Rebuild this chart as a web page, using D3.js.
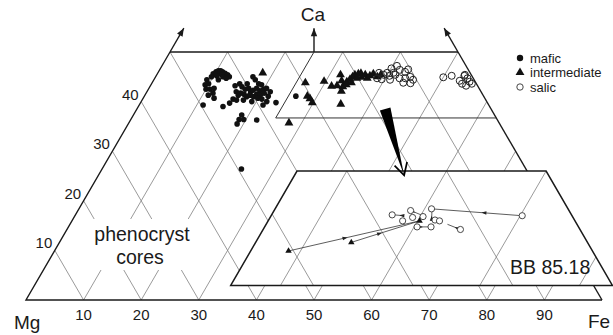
<!DOCTYPE html>
<html><head><meta charset="utf-8">
<script src="https://cdn.jsdelivr.net/npm/d3@7"></script>
<style>
body{margin:0;background:#fff}
svg{display:block;font-family:"Liberation Sans",Arial,Helvetica,sans-serif}
</style>
</head><body>
<svg id="chart" width="613" height="335"></svg>
<script>
// Pyroxene compositions as [Ca, Fe] in mol %; Mg = 100 - Ca - Fe
const maficPts = [
  [45.6,9.7],[46.0,10.0],[46.2,10.3],[46.2,10.7],[46.0,11.1],[45.7,11.7],[45.4,12.3],[45.0,12.8],
  [45.6,10.8],[45.4,11.3],[45.0,11.7],[45.2,10.5],[44.7,12.4],[45.0,9.7],[44.4,9.2],[43.4,9.4],
  [43.6,9.9],[42.5,10.0],[42.5,10.7],[42.7,11.3],[41.7,11.6],[41.3,11.0],[40.7,12.3],[39.3,11.1],
  [39.0,14.7],[45.0,16.9],[44.4,17.6],[43.6,15.3],[43.0,16.0],[42.5,16.8],[42.7,17.3],[42.0,18.0],
  [42.3,18.3],[42.7,18.7],[42.2,19.5],[42.5,20.0],[42.7,20.4],[42.0,21.4],[42.0,15.5],[41.3,16.2],
  [41.7,16.4],[41.5,17.1],[41.0,17.8],[41.3,18.2],[41.0,19.0],[41.5,19.3],[41.3,20.0],[41.7,20.5],
  [41.1,21.5],[40.5,15.7],[40.3,16.4],[40.3,17.6],[40.0,19.2],[40.5,20.7],[40.0,21.8],[39.8,23.5],
  [39.7,15.5],[39.3,21.5],[43.6,18.6],[43.4,19.2],[37.3,18.8],[36.4,18.8],[36.4,19.6],[35.5,18.9],
  [36.3,21.9],[26.4,24.2],[41.1,26.3],[43.6,16.6],[40.7,19.9],[43.2,14.7],[44.4,11.2]
];
const intermediatePts = [
  [45.8,18.2],[35.7,27.8],[43.8,26.6],[41.1,28.3],[40.6,29.0],[39.8,29.8],[44.1,29.7],[43.1,31.5],
  [45.4,31.9],[44.2,32.7],[43.0,33.5],[42.1,33.7],[39.5,34.9],[43.2,32.4],[44.0,33.7],[44.5,34.0],
  [45.0,34.2],[45.4,34.4],[45.6,34.9],[45.7,35.3],[44.9,35.8],[45.4,36.2],[44.7,36.9],[45.2,37.1],
  [45.6,37.5],[44.7,35.1],[43.8,34.6],[43.4,33.9],[45.0,38.5],[45.4,38.9]
];
const salicPts = [
  [45.8,38.4],[45.4,39.4],[45.8,39.8],[45.2,40.5],[45.8,40.9],[44.7,38.6],[44.5,39.5],[44.4,41.0],
  [46.7,40.1],[47.2,40.8],[46.4,41.7],[46.0,42.8],[46.5,43.1],[45.4,41.4],[44.7,42.5],[44.7,43.5],
  [45.0,44.2],[44.4,45.0],[43.8,43.6],[43.7,44.9],
  [44.9,50.0],[45.2,51.3],[45.4,53.5],[44.7,54.3],[44.0,55.0],[43.6,53.9],[43.2,54.8],[43.6,55.6],
  [45.2,53.5],[44.2,53.2]
];

// Sample BB 85.18: core and rim analyses, zoning paths core -> rim
const bbSalic = [
  [44.9,37.1],[45.4,38.7],[44.6,39.3],[44.2,38.5],[44.7,40.3],[45.6,40.7],[44.3,41.7],[44.2,42.2],
  [43.5,40.3],[43.5,41.7],[43.2,44.8],[44.8,50.2]
];
const bbIntermediate = [[40.7,28.8],[41.7,34.6],[44.2,40.2]];
const bbPaths = [
  [[40.7,28.8],[44.2,40.2]],
  [[41.7,34.6],[44.2,40.2]],
  [[44.8,50.2],[45.6,40.7]],
  [[44.8,38.3],[44.9,37.3]],
  [[45.4,38.7],[44.9,40.0]],
  [[43.5,40.3],[43.5,41.6]],
  [[43.2,44.8],[43.8,43.2]],
  [[44.2,41.4],[45.5,40.8]]
];

const gridSteps = [10,20,30,40,50,60,70,80,90];
const caTicks = [10,20,30,40];
const legendItems = ["mafic","intermediate","salic"];

// Enlarged field: Fe >= 25, Ca 36.7 - 50
const fieldFe = 25, fieldCaLow = 36.7, fieldCaTop = 50;

const svg = d3.select("#chart");

// horizontal position in units of the Mg-Fe join
const hu = d => d[1] + d[0] / 2;

// main quadrilateral scales
const xMain = d3.scaleLinear().domain([0, 100]).range([26, 602]);
const yMain = d3.scaleLinear().domain([0, 50]).range([300, 52]);
const mx = d => xMain(hu(d)), my = d => yMain(d[0]);

// enlarged inset scales
const xIn = d3.scaleLinear().domain([50, 60]).range([297, 396.65]);
const yIn = d3.scaleLinear().domain([50, 40]).range([171, 257]);
const ix = d => xIn(hu(d)), iy = d => yIn(d[0]);

const GRID = "#808080";
const INK = "#1a1a1a";

const defs = svg.append("defs");
const quad = [[0,0],[0,100],[50,50],[50,0]];
defs.append("clipPath").attr("id","clipMain")
  .append("polygon").attr("points", quad.map(d => [mx(d), my(d)].join(",")).join(" "));

const insetPoly = [[fieldCaLow,fieldFe],[fieldCaTop,fieldFe],[fieldCaTop,100-fieldCaTop],[fieldCaLow,100-fieldCaLow]];
defs.append("clipPath").attr("id","clipInset")
  .append("polygon").attr("points", insetPoly.map(d => [ix(d), iy(d)].join(",")).join(" "));

// grid line list in composition space: constant Fe and constant Mg
const gridLines = [];
gridSteps.forEach(k => {
  gridLines.push([[0,k],[100-k,k]]);       // Fe = k
  gridLines.push([[0,100-k],[100-k,0]]);   // Mg = k
});

// ---- main grid
svg.append("g").attr("clip-path","url(#clipMain)")
  .selectAll("line").data(gridLines).join("line")
  .attr("x1", d => mx(d[0])).attr("y1", d => my(d[0]))
  .attr("x2", d => mx(d[1])).attr("y2", d => my(d[1]))
  .attr("stroke", GRID).attr("stroke-width", 0.8);

// ---- outline with axis arrows
const outline = svg.append("g").attr("stroke", INK).attr("fill","none").attr("stroke-width",1.4);
const line = d3.line().x(mx).y(my);
outline.append("path").attr("d", line([[0,100],[0,0],[50,0]]));
outline.append("path").attr("d", line([[0,100],[50,50]]));
outline.append("path").attr("d", line([[50,0],[50,50]]));

function arrowHead(g, from, to, len, half, fill) {
  const dx = to[0]-from[0], dy = to[1]-from[1], L = Math.hypot(dx,dy);
  const ux = dx/L, uy = dy/L, nx = -uy, ny = ux;
  const bx = to[0]-ux*len, by = to[1]-uy*len;
  g.append("path")
    .attr("d", `M${to[0]},${to[1]}L${bx+nx*half},${by+ny*half}L${bx-nx*half},${by-ny*half}Z`)
    .attr("fill", fill).attr("stroke","none");
}
const axisArrows = [
  [[50,0],[54.8,0]],
  [[50,25],[54.8,22.6]],
  [[50,50],[54.8,45.2]]
];
const arrowG = svg.append("g");
axisArrows.forEach(a => {
  const p0 = [mx(a[0]), my(a[0])];
  const p1 = [mx(a[1]), yMain(a[1][0])];
  arrowG.append("line").attr("x1",p0[0]).attr("y1",p0[1]).attr("x2",p1[0]).attr("y2",p1[1])
    .attr("stroke",INK).attr("stroke-width",1.4);
  arrowHead(arrowG, p0, p1, 8, 3.2, INK);
});

// ---- outline of the enlarged field
svg.append("path")
  .attr("d", line([[fieldCaTop,fieldFe],[fieldCaLow,fieldFe],[fieldCaLow,100-fieldCaLow]]))
  .attr("fill","none").attr("stroke","#333").attr("stroke-width",1);

// ---- labels
svg.append("text").attr("x", xMain(50)-1).attr("y", 21).attr("text-anchor","middle")
  .attr("font-size", 19).attr("fill", INK).text("Ca");
svg.append("text").attr("x", 14).attr("y", 329).attr("font-size", 19).attr("fill", INK).text("Mg");
svg.append("text").attr("x", 588).attr("y", 328).attr("font-size", 19).attr("fill", INK).text("Fe");

svg.append("g").selectAll("text").data(gridSteps).join("text")
  .attr("x", d => xMain(d)).attr("y", 320).attr("text-anchor","middle")
  .attr("font-size", 15).attr("fill", INK).text(d => d);

svg.append("g").selectAll("text").data(caTicks).join("text")
  .attr("x", d => mx([d,0]) - 2.5).attr("y", d => my([d,0]) - 2)
  .attr("text-anchor","end").attr("font-size", 15).attr("fill", INK).text(d => d);

// phenocryst label on a white ground
svg.append("rect").attr("x", 89).attr("y", 219).attr("width", 108).attr("height", 51).attr("fill","#fff");
svg.append("text").attr("x", 142).attr("y", 241).attr("text-anchor","middle")
  .attr("font-size", 19.5).attr("fill", INK).text("phenocryst");
svg.append("text").attr("x", 140).attr("y", 264).attr("text-anchor","middle")
  .attr("font-size", 19.5).attr("fill", INK).text("cores");

// ---- main data
const tri = d3.symbol().type(d3.symbolTriangle);
svg.append("g").selectAll("circle").data(maficPts).join("circle")
  .attr("cx", mx).attr("cy", my).attr("r", 2.8).attr("fill", "#111");
svg.append("g").selectAll("path").data(intermediatePts).join("path")
  .attr("d", tri.size(34)).attr("transform", d => `translate(${mx(d)},${my(d)})`).attr("fill","#111");
svg.append("g").selectAll("circle").data(salicPts).join("circle")
  .attr("cx", mx).attr("cy", my).attr("r", 3.5).attr("fill","none")
  .attr("stroke","#222").attr("stroke-width",1);

// ---- inset
const inset = svg.append("g");
inset.append("polygon").attr("points", insetPoly.map(d => [ix(d), iy(d)].join(",")).join(" "))
  .attr("fill","#fff");
inset.append("g").attr("clip-path","url(#clipInset)")
  .selectAll("line").data(gridLines).join("line")
  .attr("x1", d => ix(d[0])).attr("y1", d => iy(d[0]))
  .attr("x2", d => ix(d[1])).attr("y2", d => iy(d[1]))
  .attr("stroke", GRID).attr("stroke-width", 0.8);
inset.append("polygon").attr("points", insetPoly.map(d => [ix(d), iy(d)].join(",")).join(" "))
  .attr("fill","none").attr("stroke", INK).attr("stroke-width", 1.5);

const pathG = inset.append("g");
bbPaths.forEach(p => {
  const a = [ix(p[0]), iy(p[0])], b = [ix(p[1]), iy(p[1])];
  pathG.append("line").attr("x1",a[0]).attr("y1",a[1]).attr("x2",b[0]).attr("y2",b[1])
    .attr("stroke","#333").attr("stroke-width",0.8);
  const t = 0.45, m = [a[0]+(b[0]-a[0])*t, a[1]+(b[1]-a[1])*t];
  arrowHead(pathG, a, m, 5, 1.8, "#222");
});
inset.append("g").selectAll("circle").data(bbSalic).join("circle")
  .attr("cx", ix).attr("cy", iy).attr("r", 3.1).attr("fill","#fff")
  .attr("stroke","#333").attr("stroke-width",0.9);
inset.append("g").selectAll("path").data(bbIntermediate).join("path")
  .attr("d", tri.size(18)).attr("transform", d => `translate(${ix(d)},${iy(d)})`).attr("fill","#111");

inset.append("text").attr("x", 510).attr("y", 274).attr("font-size", 19.5).attr("fill", INK).text("BB 85.18");

// ---- wedge arrow from the field to its enlargement
(function () {
  const top = [mx([38.5,43.1]), my([38.5,43.1])];
  const tip = [ix([49.5,36.0]), iy([49.5,36.0])];
  const dx = tip[0]-top[0], dy = tip[1]-top[1], L = Math.hypot(dx,dy);
  const ux = dx/L, uy = dy/L, nx = -uy, ny = ux;
  const w = 5.5;
  svg.append("path")
    .attr("d", `M${top[0]+nx*w},${top[1]+ny*w}L${top[0]-nx*w},${top[1]-ny*w}L${tip[0]},${tip[1]}Z`)
    .attr("fill","#000");
  const back = 12, spread = 6.5;
  const bx = tip[0]-ux*back, by = tip[1]-uy*back;
  svg.append("path")
    .attr("d", `M${bx+nx*spread},${by+ny*spread}L${tip[0]},${tip[1]}L${bx-nx*spread},${by-ny*spread}`)
    .attr("fill","none").attr("stroke","#000").attr("stroke-width",1.7);
})();

// ---- legend
const lg = svg.append("g").attr("transform","translate(520,58)");
legendItems.forEach((name, i) => {
  const g = lg.append("g").attr("transform", `translate(0,${i*14.5})`);
  if (i === 0) g.append("circle").attr("r", 3.2).attr("fill","#111");
  if (i === 1) g.append("path").attr("d", tri.size(34)).attr("fill","#111");
  if (i === 2) g.append("circle").attr("r", 3.2).attr("fill","none").attr("stroke","#333").attr("stroke-width",0.9);
  g.append("text").attr("x", 10).attr("y", 4.5).attr("font-size", 13).attr("fill", INK).text(name);
});
</script>
</body></html>
